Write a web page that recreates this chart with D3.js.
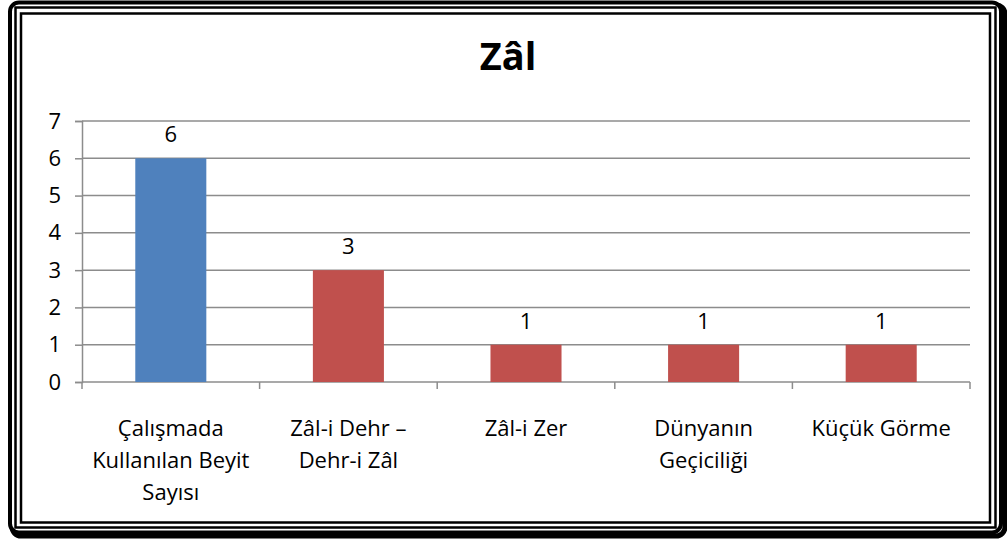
<!DOCTYPE html>
<html>
<head>
<meta charset="utf-8">
<script src="https://cdn.jsdelivr.net/npm/d3@7"></script>
<style>
  body { margin: 0; background: #fff; }
  text { font-family: "Open Sans", "Liberation Sans", sans-serif; fill: #000; }
</style>
</head>
<body>
<svg width="1007" height="541"></svg>
<script>
var title = "Zâl";
var categories = ["Çalışmada|Kullanılan Beyit|Sayısı", "Zâl-i Dehr –|Dehr-i Zâl", "Zâl-i Zer", "Dünyanın|Geçiciliği", "Küçük Görme"];
var values = [6, 3, 1, 1, 1];
var barColors = ["#4F81BD", "#C0504D", "#C0504D", "#C0504D", "#C0504D"];
var yTicks = [0, 1, 2, 3, 4, 5, 6, 7];

var svg = d3.select("svg");

// frame: shadow + three lines
svg.append("rect").attr("x", 12).attr("y", 5).attr("width", 993).attr("height", 531)
  .attr("rx", 9).attr("fill", "none").attr("stroke", "#000").attr("stroke-width", 5);
svg.append("rect").attr("x", 10).attr("y", 2.5).attr("width", 991).attr("height", 530)
  .attr("rx", 9).attr("fill", "#fff").attr("stroke", "#000").attr("stroke-width", 4);
svg.append("rect").attr("x", 15.5).attr("y", 7.5).attr("width", 980).attr("height", 520)
  .attr("fill", "none").attr("stroke", "#000").attr("stroke-width", 2.5);
svg.append("rect").attr("x", 21).attr("y", 13.5).attr("width", 969).attr("height", 509)
  .attr("fill", "#fff").attr("stroke", "#000").attr("stroke-width", 2.5);

var plotLeft = 82, plotRight = 970, plotTop = 121, plotBottom = 382;

var x = d3.scaleBand().domain(d3.range(categories.length)).range([plotLeft, plotRight]);
var y = d3.scaleLinear().domain([0, 7]).range([plotBottom, plotTop]);

// gridlines
svg.append("g").selectAll("line").data(yTicks.slice(1)).enter().append("line")
  .attr("x1", plotLeft).attr("x2", plotRight)
  .attr("y1", function(d) { return y(d); }).attr("y2", function(d) { return y(d); })
  .attr("stroke", "#8c8c8c").attr("stroke-width", 1.5);

// y axis
var yAxis = svg.append("g").attr("transform", "translate(" + plotLeft + ",0)")
  .call(d3.axisLeft(y).tickValues(yTicks).tickFormat(d3.format("d")).tickSize(7).tickPadding(14));
yAxis.select(".domain").attr("stroke", "#8c8c8c").attr("stroke-width", 1.5);
yAxis.selectAll(".tick line").attr("stroke", "#8c8c8c").attr("stroke-width", 1.5);
yAxis.selectAll(".tick text").style("font-size", "22px").style("font-family", "'Open Sans', sans-serif").attr("fill", "#000");

// x axis line + category ticks
svg.append("line").attr("x1", plotLeft).attr("x2", plotRight).attr("y1", plotBottom).attr("y2", plotBottom)
  .attr("stroke", "#8c8c8c").attr("stroke-width", 1.5);
svg.append("g").selectAll("line").data(d3.range(categories.length + 1)).enter().append("line")
  .attr("x1", function(i) { return plotLeft + i * x.bandwidth(); })
  .attr("x2", function(i) { return plotLeft + i * x.bandwidth(); })
  .attr("y1", plotBottom).attr("y2", plotBottom + 7)
  .attr("stroke", "#8c8c8c").attr("stroke-width", 1.5);

// bars
var barW = x.bandwidth() / 2.5;
svg.append("g").selectAll("rect").data(values).enter().append("rect")
  .attr("x", function(d, i) { return x(i) + (x.bandwidth() - barW) / 2; })
  .attr("y", function(d) { return y(d); })
  .attr("width", barW)
  .attr("height", function(d) { return y(0) - y(d); })
  .attr("fill", function(d, i) { return barColors[i]; });

// value labels
svg.append("g").selectAll("text").data(values).enter().append("text")
  .attr("x", function(d, i) { return x(i) + x.bandwidth() / 2; })
  .attr("y", function(d) { return y(d) - 16; })
  .attr("text-anchor", "middle")
  .style("font-size", "22px")
  .text(function(d) { return d; });

// category labels
var cat = svg.append("g").selectAll("text").data(categories).enter().append("text")
  .attr("text-anchor", "middle")
  .style("font-size", "22px");
cat.each(function(d, i) {
  var t = d3.select(this);
  d.split("|").forEach(function(line, j) {
    t.append("tspan").attr("x", x(i) + x.bandwidth() / 2).attr("y", 436 + j * 32).text(line);
  });
});

// title
svg.append("text").attr("x", 508).attr("y", 70).attr("text-anchor", "middle")
  .style("font-size", "38px").style("font-weight", "bold").text(title);
</script>
</body>
</html>
